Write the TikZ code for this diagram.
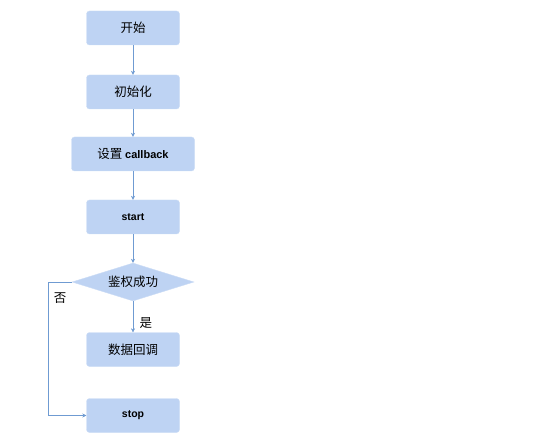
\documentclass[tikz,border=0pt]{standalone}
\usepackage{fontspec}
\setmainfont{Noto Sans CJK SC}
\newfontfamily\latinbold{Liberation Sans}
\usepackage{xcolor}
\usetikzlibrary{arrows.meta, positioning, shapes.geometric}

\definecolor{boxfill}{HTML}{BED3F3}
\definecolor{linkblue}{HTML}{6F9BD2}

\begin{document}
\begin{tikzpicture}[x=1pt, y=-1pt,
    stepbox/.style={draw=boxfill!80!white, rounded corners=3pt, fill=boxfill, minimum width=93pt, minimum height=34pt, font=\fontsize{12.5}{14}\selectfont, inner sep=1pt},
    choice/.style={diamond, aspect=3.2, draw=boxfill!80!white, fill=boxfill, inner sep=1pt, minimum width=122pt, minimum height=38pt, font=\fontsize{12.5}{14}\selectfont},
    arrow/.style={-{Stealth[length=4pt, width=4pt]}, linkblue, thin},
]
\useasboundingbox (0,0) rectangle (554,438);

% Steps
\node[stepbox] (begin) at (133, 28) {开始};
\node[stepbox] (init) at (133, 92) {初始化};
\node[stepbox, minimum width=123pt] (setcb) at (133, 154) {设置 {\latinbold\bfseries\fontsize{11}{13}\selectfont callback}};
\node[stepbox] (start) at (133, 217) {\latinbold\bfseries\fontsize{10.5}{12}\selectfont start};
\node[choice] (auth) at (133, 282) {鉴权成功};
\node[stepbox] (data) at (133, 349.5) {数据回调};
\node[stepbox] (stop) at (133, 415.5) {\latinbold\bfseries\fontsize{10.5}{12}\selectfont stop};

% Connectors
\draw[arrow] (begin) -- (init);
\draw[arrow] (init) -- (setcb);
\draw[arrow] (setcb) -- (start);
\draw[arrow] (start) -- (auth);
\draw[arrow] (auth) -- node[right, font=\fontsize{12.5}{14}\selectfont, black, xshift=3pt, yshift=-6pt] (yes) {是} (data);
\coordinate (nocorner) at (48, 415.5);
\draw[arrow] (auth.west) -| (nocorner) -- (stop.west);
\node[font=\fontsize{12.5}{14}\selectfont] (no) at (60, 298) {否};

\end{tikzpicture}
\end{document}
